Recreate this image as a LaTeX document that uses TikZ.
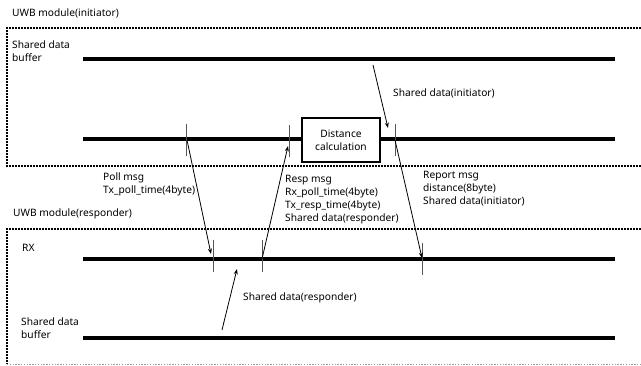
\documentclass[tikz,border=0pt]{standalone}
\usepackage{fontspec}
\setmainfont{Noto Sans}
\usetikzlibrary{arrows.meta}
\definecolor{UWBLine}{HTML}{000000}
\definecolor{UWBTick}{HTML}{555555}
\definecolor{UWBDots}{HTML}{9A9A9A}
\tikzset{
  modbox/.style={line width=2pt,dash pattern=on 1.6pt off 1.4pt},
  timeline/.style={line width=3.6pt,UWBLine},
  tickmark/.style={line width=0.6pt,UWBTick},
  msgarrow/.style={line width=0.8pt,-{Stealth[length=5.5pt,width=4pt]}},
  lbl/.style={anchor=north west,inner sep=0pt,align=left,font=\fontsize{10.2}{13}\selectfont},
}

\begin{document}
\begin{tikzpicture}[x=1pt,y=-1pt]
\useasboundingbox (0,0) rectangle (641,366);
\draw[modbox] (641,28) -- (7,28) -- (7,166) -- (641,166);
\draw[modbox] (641,229) -- (7,229) -- (7,364);
\draw[UWBDots,line width=0.8pt,dash pattern=on 1.4pt off 1.4pt] (7,364) -- (641,364);
\node[lbl] (initmod) at (12,9) {UWB module(initiator)};
\node[lbl] (respmod) at (13,209) {UWB module(responder)};
\coordinate (ibufL) at (83,59);
\coordinate (ibufR) at (615,59);
\coordinate (itxL) at (83,139);
\coordinate (itxR) at (615,139);
\coordinate (rrxL) at (83,259);
\coordinate (rrxR) at (615,259);
\coordinate (rbufL) at (83,338);
\coordinate (rbufR) at (615,338);
\draw[timeline] (ibufL) -- (ibufR);
\draw[timeline] (itxL) -- (itxR);
\draw[timeline] (rrxL) -- (rrxR);
\draw[timeline] (rbufL) -- (rbufR);
\node[draw,line width=1.6pt,fill=white,minimum width=78pt,minimum height=44pt,inner sep=0pt,align=center,font=\fontsize{10.2}{13}\selectfont] (distcalc) at (341,140) {Distance\\calculation};
\node[lbl] (ibuftxt) at (12,41) {Shared data\\buffer};
\node[lbl] (rxtxt) at (22,244) {RX};
\node[lbl] (rbuftxt) at (21,318) {Shared data\\buffer};
\coordinate (pollTop) at (186,124);
\coordinate (pollBot) at (186,156);
\coordinate (respTop) at (289,125);
\coordinate (respBot) at (289,157);
\coordinate (repTop) at (395,124);
\coordinate (repBot) at (395,156);
\coordinate (pollRxTop) at (213,240);
\coordinate (pollRxBot) at (213,272);
\coordinate (respTxTop) at (262,240);
\coordinate (respTxBot) at (262,272);
\coordinate (repRxTop) at (422,243);
\coordinate (repRxBot) at (422,275);
\draw[tickmark] (pollTop) -- (pollBot);
\draw[tickmark] (respTop) -- (respBot);
\draw[tickmark] (repTop) -- (repBot);
\draw[tickmark] (pollRxTop) -- (pollRxBot);
\draw[tickmark] (respTxTop) -- (respTxBot);
\draw[tickmark] (repRxTop) -- (repRxBot);
\coordinate (pollS) at (187,140);
\coordinate (pollE) at (211,254);
\coordinate (respS) at (262,259);
\coordinate (respE) at (288,146);
\coordinate (repS) at (395,140);
\coordinate (repE) at (422,258);
\coordinate (ishS) at (373,65);
\coordinate (ishE) at (388,128);
\coordinate (rshS) at (222,330);
\coordinate (rshE) at (237,269);
\draw[msgarrow] (pollS) -- (pollE);
\draw[msgarrow] (respS) -- (respE);
\draw[msgarrow] (repS) -- (repE);
\draw[msgarrow] (ishS) -- (ishE);
\draw[msgarrow] (rshS) -- (rshE);
\node[lbl] (ishtxt) at (393,89) {Shared data(initiator)};
\node[lbl] (rshtxt) at (243,293) {Shared data(responder)};
\node[lbl] (polltxt) at (103,173) {Poll msg\\Tx\_poll\_time(4byte)};
\node[lbl] (resptxt) at (285,175) {Resp msg\\Rx\_poll\_time(4byte)\\Tx\_resp\_time(4byte)\\Shared data(responder)};
\node[lbl] (reptxt) at (423,171) {Report msg\\distance(8byte)\\Shared data(initiator)};
\end{tikzpicture}
\end{document}
